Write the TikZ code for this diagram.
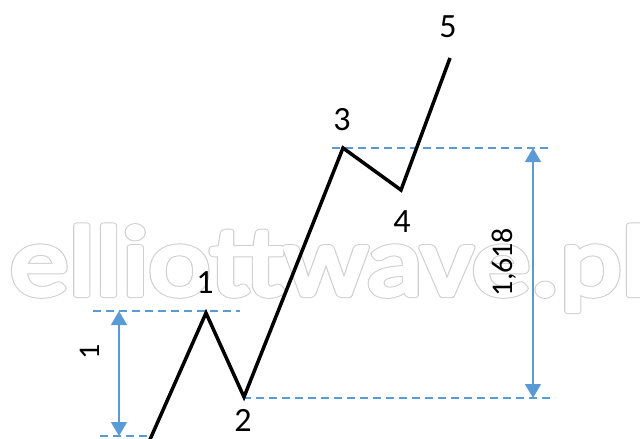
\documentclass[tikz,border=0pt]{standalone}
\usepackage{fontspec}
\setmainfont{Carlito}
\usetikzlibrary{arrows.meta}
\definecolor{guide}{HTML}{5B9BD5}
\definecolor{wmark}{HTML}{CFCFCF}
\newcommand{\wmtext}{elliottwave.pl}
\begin{document}
\begin{tikzpicture}[x=1pt,y=-1pt,
  wave/.style={line width=3.5pt, line join=miter, black},
  guideline/.style={guide, line width=1.1pt, dash pattern=on 8pt off 5pt},
  measure/.style={guide, line width=1.2pt, {Triangle[width=16pt,length=14pt]}-{Triangle[width=16pt,length=14pt]}},
  wavelabel/.style={font=\fontsize{34}{40}\selectfont, inner sep=0pt},
  ratiolabel/.style={font=\fontsize{30}{36}\selectfont, inner sep=0pt, rotate=90},
  watermark/.style={anchor=base west, inner sep=0pt, xscale=1.168, transform shape, font=\fontsize{100}{110}\selectfont}]
\useasboundingbox (0,0) rectangle (640,439);
% watermark: outlined text (gray ring around a slightly emboldened glyph)
\node[watermark, text=wmark] (wm) at (10,295) {\special{pdf:code 2 Tr 6.2 w 1 j}\wmtext\special{pdf:code 0 Tr}};
\node[watermark, text=white] (wmfill) at (10,295) {\special{pdf:code 2 Tr 4.2 w 1 j}\wmtext\special{pdf:code 0 Tr}};
% guide lines
\coordinate (d1a) at (93,311); \coordinate (d1b) at (240,311);
\coordinate (d0a) at (100,436); \coordinate (d0b) at (152,436);
\coordinate (d2a) at (243,398); \coordinate (d2b) at (555,398);
\coordinate (d3a) at (332,148); \coordinate (d3b) at (548,148);
\draw[guideline] (d1a) -- (d1b);
\draw[guideline] (d0a) -- (d0b);
\draw[guideline] (d2a) -- (d2b);
\draw[guideline] (d3a) -- (d3b);
% measures
\coordinate (m1a) at (119,311); \coordinate (m1b) at (119,436);
\coordinate (m2a) at (533,148); \coordinate (m2b) at (533,398);
\draw[measure] (m1a) -- (m1b);
\draw[measure] (m2a) -- (m2b);
\node[ratiolabel] (r1) at (90,352) {1};
\node[ratiolabel] (r2) at (504,262) {1,618};
% wave
\coordinate (w0) at (148,444);
\coordinate (w1) at (206,313);
\coordinate (w2) at (244,397);
\coordinate (w3) at (343,148);
\coordinate (w4) at (401,190);
\coordinate (w5) at (450,58);
\draw[wave] (w0) -- (w1) -- (w2) -- (w3) -- (w4) -- (w5);
\node[wavelabel] (l1) at (205,283) {1};
\node[wavelabel] (l2) at (243,420) {2};
\node[wavelabel] (l3) at (342,120) {3};
\node[wavelabel] (l4) at (402,222) {4};
\node[wavelabel] (l5) at (448,27) {5};
\end{tikzpicture}
\end{document}
